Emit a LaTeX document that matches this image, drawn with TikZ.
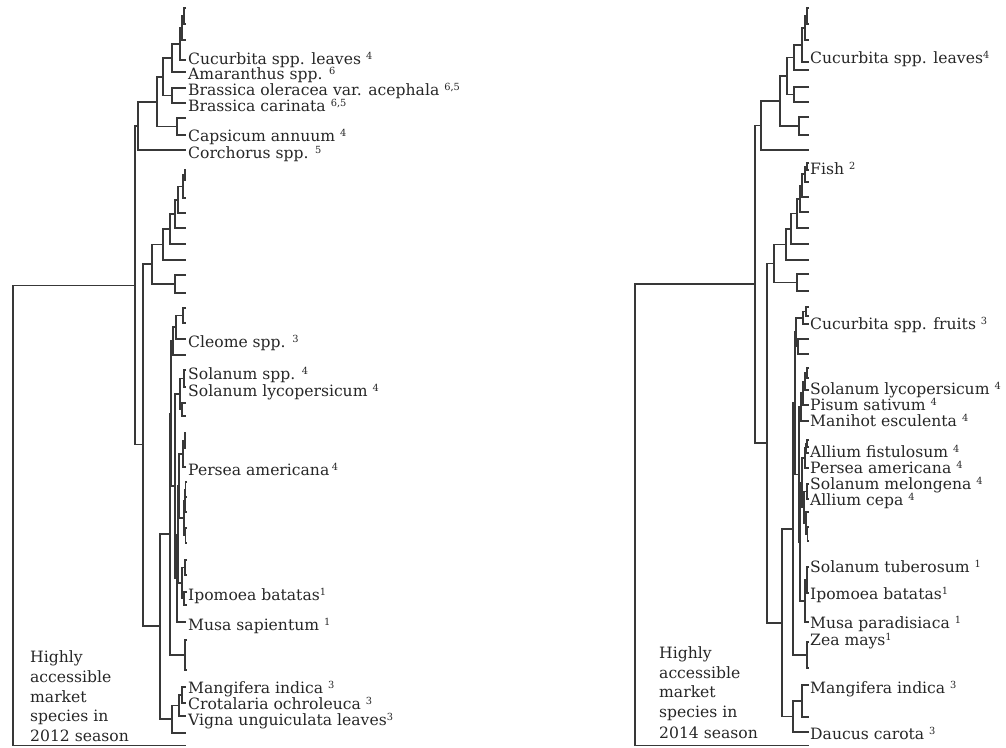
\documentclass[tikz,border=0pt]{standalone}
\usepackage{fontspec}
\setmainfont{DejaVu Serif}
\newcommand\spx[1]{\raisebox{5pt}{\fontsize{9.8}{10}\selectfont #1}}
\newcommand\J[5]{\draw[dg] (#3,#2) -- (#1,#2) -- (#1,#4) -- (#5,#4);}
\tikzset{
  dg/.style={draw=black!78, line width=1.05pt},
  lab/.style={anchor=base west, inner sep=0pt, text=black!85, font=\fontsize{15.6}{18}\selectfont}
}
\begin{document}
\begin{tikzpicture}[x=1pt,y=-1pt]
\useasboundingbox (0,0) rectangle (1006,747);
% ===== left dendrogram (2012) =====
\J{13}{285.5}{135}{745.5}{186}
\J{135}{126}{138}{444.5}{143}
\J{184}{8}{186}{24}{186}
\J{182}{16}{184}{40}{186}
\J{180}{28}{182}{60}{186}
\J{172}{44}{180}{72}{186}
\J{172}{88}{186}{103}{186}
\J{163}{58}{172}{95.5}{172}
\J{177}{118}{186}{135}{186}
\J{157}{77}{163}{126.5}{177}
\J{138}{102}{157}{150}{186}
\J{185}{170}{186}{180}{186}
\J{183}{175}{185}{198}{186}
\J{178}{186.5}{183}{213}{186}
\J{175}{200}{178}{228}{186}
\J{170}{214}{175}{244}{186}
\J{163}{229}{170}{260}{186}
\J{175}{275}{186}{293}{186}
\J{152}{244.5}{163}{284}{175}
\J{143}{264}{152}{626}{160}
\J{183}{308}{186}{323}{186}
\J{176}{315.5}{183}{339}{186}
\J{173}{327}{176}{355}{186}
\J{184}{370}{186}{387}{186}
\J{182}{403}{186}{416}{186}
\J{180}{378.5}{184}{409.5}{182}
\J{185}{433}{186}{448}{186}
\J{183}{440.5}{185}{467}{186}
\J{185.5}{482}{187}{497}{187}
\J{185}{489.5}{185.5}{512}{187}
\J{185.5}{528}{187}{543}{187}
\J{184}{501}{185}{535.5}{185.5}
\J{185}{560}{187}{575}{187}
\J{184}{592}{187}{605}{187}
\J{182}{567.5}{185}{598.5}{184}
\J{179}{454}{183}{518}{184}
\J{178}{486}{179}{583}{182}
\J{177}{534.5}{178}{622}{186}
\J{175}{394}{180}{578}{177}
\J{171}{341}{173}{486}{175}
\J{185}{640}{187}{670}{187}
\J{170}{413.5}{171}{655}{185}
\J{182}{687}{186}{703}{186}
\J{179}{695}{182}{716}{186}
\J{172}{705.5}{179}{733}{186}
\J{160}{534}{170}{719}{172}
% ===== right dendrogram (2014) =====
\J{635}{284}{755}{745.5}{809}
\J{755}{125.5}{761}{443}{767}
\J{807}{8}{809}{24}{809}
\J{805}{16}{807}{40}{809}
\J{802}{28}{805}{62}{809}
\J{794}{45}{802}{70}{809}
\J{794}{87}{809}{102}{809}
\J{787}{57.5}{794}{94.5}{794}
\J{799}{117}{809}{135}{809}
\J{780}{76}{787}{126}{799}
\J{761}{101}{780}{150}{809}
\J{807}{163}{809}{170}{809}
\J{805}{166.5}{807}{182}{809}
\J{802}{174}{805}{197}{809}
\J{800}{185.5}{802}{212}{809}
\J{797}{199}{800}{228}{809}
\J{791}{213.5}{797}{244}{809}
\J{786}{229}{791}{260}{809}
\J{797}{274}{809}{291}{809}
\J{774}{244.5}{786}{282.5}{797}
\J{767}{263.5}{774}{623}{782}
\J{806}{307}{809}{316}{809}
\J{803}{311.5}{806}{324}{809}
\J{798}{339}{809}{354}{809}
\J{796}{318}{803}{346.5}{798}
\J{807}{368}{809}{378}{809}
\J{805}{373}{807}{390}{809}
\J{803}{381.5}{805}{405}{809}
\J{801}{393}{803}{421}{809}
\J{807}{440}{809}{447}{809}
\J{806}{443.5}{807}{453}{809}
\J{805}{448}{806}{468}{809}
\J{807}{484}{809}{499}{809}
\J{807.5}{527}{809}{541}{809}
\J{806}{512}{809}{534}{807.5}
\J{804}{491.5}{807}{523}{806}
\J{802}{458}{805}{507}{804}
\J{807}{567}{809}{593}{809}
\J{805}{580}{807}{622}{809}
\J{800}{482.5}{802}{601}{805}
\J{799}{407}{801}{542}{800}
\J{795}{332}{796}{474.5}{799}
\J{807}{642}{809}{668}{809}
\J{793}{403}{795}{655}{807}
\J{802}{685}{809}{717}{809}
\J{793}{701}{802}{732}{809}
\J{782}{529}{793}{716.5}{793}
% ===== left labels =====
\node[lab] (l1) at (188,64) {Cucurbita spp. leaves \spx{4}};
\node[lab] (l2) at (188,79) {Amaranthus spp. \spx{6}};
\node[lab] (l3) at (188,95) {Brassica oleracea var. acephala \spx{6,5}};
\node[lab] (l4) at (188,111) {Brassica carinata \spx{6,5}};
\node[lab] (l5) at (188,141) {Capsicum annuum \spx{4}};
\node[lab] (l6) at (188,158) {Corchorus spp. \spx{5}};
\node[lab] (l7) at (188,347) {Cleome spp. \spx{3}};
\node[lab] (l8) at (188,379) {Solanum spp. \spx{4}};
\node[lab] (l9) at (188,396) {Solanum lycopersicum \spx{4}};
\node[lab] (l10) at (188,475) {Persea americana\,\spx{4}};
\node[lab] (l11) at (188,600) {Ipomoea batatas\spx{1}};
\node[lab] (l12) at (188,630) {Musa sapientum \spx{1}};
\node[lab] (l13) at (188,693) {Mangifera indica \spx{3}};
\node[lab] (l14) at (188,709) {Crotalaria ochroleuca \spx{3}};
\node[lab] (l15) at (188,725) {Vigna unguiculata leaves\spx{3}};
\node[lab] (hl1) at (30,662) {Highly};
\node[lab] (hl2) at (30,682) {accessible};
\node[lab] (hl3) at (30,702) {market};
\node[lab] (hl4) at (30,721) {species in};
\node[lab] (hl5) at (30,741) {2012 season};
% ===== right labels =====
\node[lab] (r1) at (810,63) {Cucurbita spp. leaves\spx{4}};
\node[lab] (r2) at (810,174) {Fish \spx{2}};
\node[lab] (r3) at (810,329) {Cucurbita spp. fruits \spx{3}};
\node[lab] (r4) at (810,394) {Solanum lycopersicum \spx{4}};
\node[lab] (r5) at (810,410) {Pisum sativum \spx{4}};
\node[lab] (r6) at (810,426) {Manihot esculenta \spx{4}};
\node[lab] (r7) at (810,457) {Allium fistulosum \spx{4}};
\node[lab] (r8) at (810,473) {Persea americana \spx{4}};
\node[lab] (r9) at (810,489) {Solanum melongena \spx{4}};
\node[lab] (r10) at (810,505) {Allium cepa \spx{4}};
\node[lab] (r11) at (810,572) {Solanum tuberosum \spx{1}};
\node[lab] (r12) at (810,599) {Ipomoea batatas\spx{1}};
\node[lab] (r13) at (810,628) {Musa paradisiaca \spx{1}};
\node[lab] (r14) at (810,645) {Zea mays\spx{1}};
\node[lab] (r15) at (810,693) {Mangifera indica \spx{3}};
\node[lab] (r16) at (810,739) {Daucus carota \spx{3}};
\node[lab] (hr1) at (659,658) {Highly};
\node[lab] (hr2) at (659,678) {accessible};
\node[lab] (hr3) at (659,697) {market};
\node[lab] (hr4) at (659,717) {species in};
\node[lab] (hr5) at (659,738) {2014 season};
\end{tikzpicture}
\end{document}
